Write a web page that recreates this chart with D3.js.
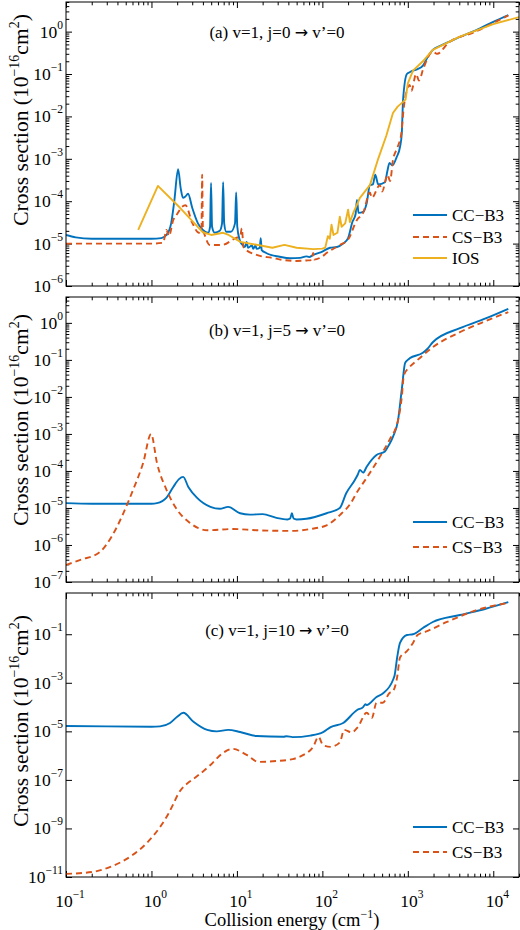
<!DOCTYPE html>
<html><head><meta charset="utf-8">
<script src="https://cdn.jsdelivr.net/npm/d3@7/dist/d3.min.js"></script>
<style>
body{margin:0;background:#fff}
text{font-family:"Liberation Serif","Times New Roman","DejaVu Serif",serif;fill:#000}
</style>
</head><body>
<svg id="chart" width="520" height="930"></svg>
<script>
// ---------------- data ----------------
const energyDomain = [0.1, 2e4];
const xTickExponents = [-1, 0, 1, 2, 3, 4];
const seriesNames = ["CC−B3", "CS−B3", "IOS"];
const panelTitles = [["(a) v=1, j=0 ", " v’=0"], ["(b) v=1, j=5 ", " v’=0"], ["(c) v=1, j=10 ", " v’=0"]];

const yDomainA = [1e-6, 5];
const yTickExpA = [-6, -5, -4, -3, -2, -1, 0];
const yDomainB = [1e-7, 5];
const yTickExpB = [-7, -6, -5, -4, -3, -2, -1, 0];
const yDomainC = [1e-11, 5];
const yTickExpC = [-11, -9, -7, -5, -3, -1];

// panel (a) j=0
const aCC = [[0.1,1.6e-5],[0.13,1.4e-5],[0.2,1.3e-5],[0.5,1.3e-5],[1.0,1.3e-5],[1.3,1.35e-5],[1.5,1.6e-5],[1.7,3e-5],[1.85,1e-4],[2.05,5.7e-4],[2.2,2e-4],[2.34,1.2e-4],[2.5,1.3e-4],[2.68,1.5e-4],[3.0,7e-5],[3.5,3e-5],[4.0,2.1e-5],[4.6,1.8e-5],[4.85,2.5e-5],[4.98,2.7e-4],[5.12,2.5e-5],[5.5,1.8e-5],[6.3,2e-5],[6.7,3e-5],[6.9,2.8e-4],[7.1,3e-5],[7.5,1.9e-5],[8.5,1.9e-5],[9.5,3e-5],[9.8,1.6e-4],[10.1,2.5e-5],[10.8,1.2e-5],[11.5,9.5e-6],[12.4,8.3e-6],[13,1.1e-5],[13.5,8e-6],[15,9e-6],[15.5,7.5e-6],[16.5,9e-6],[17,7.5e-6],[18.5,8e-6],[19,1.35e-5],[19.5,7e-6],[22,6e-6],[31.6,4.9e-6],[42,4.5e-6],[55,4.6e-6],[65,5e-6],[70,4.8e-6],[78,5.4e-6],[100,6.5e-6],[123,8e-6],[148,8.3e-6],[175,1.0e-5],[200,1.35e-5],[224,3.2e-5],[245,5e-5],[254,1.07e-4],[265,5.3e-5],[300,5.6e-5],[330,9e-5],[360,2.4e-4],[390,2.5e-4],[416,4.2e-4],[450,2.5e-4],[540,2.8e-4],[575,5e-4],[610,8e-4],[660,7e-4],[740,1.1e-3],[810,1.9e-3],[850,4e-3],[880,0.025],[975,0.1],[1050,0.11],[1150,0.12],[1300,0.13],[1510,0.16],[1700,0.25],[1960,0.37],[2500,0.48],[4070,0.75],[7000,1.2],[10000,1.7],[15000,2.45]];
const aCS = [[0.1,1.0e-5],[0.5,1.0e-5],[1.0,1.0e-5],[1.37,1.05e-5],[1.5,2.1e-5],[1.6,1.5e-5],[1.8,3.6e-5],[2.0,5e-5],[2.28,7.4e-5],[2.5,8e-5],[3.0,3.1e-5],[3.6,1.8e-5],[3.85,2.2e-5],[3.92,4.2e-4],[4.0,2.2e-5],[4.2,1.6e-5],[4.8,9.3e-6],[6.7,9.3e-6],[9.0,1.25e-5],[11.0,1.6e-5],[11.4,2.3e-5],[12,8e-6],[17,5.4e-6],[26,4.6e-6],[35,4.1e-6],[50,3.9e-6],[65,4e-6],[75,4.1e-6],[78,6e-6],[80,4.2e-6],[100,5e-6],[112,6e-6],[160,9.3e-6],[200,1.25e-5],[254,3.6e-5],[300,5.3e-5],[360,1.6e-4],[380,1.2e-4],[470,2.4e-4],[500,1.7e-4],[580,4.2e-4],[620,3e-4],[670,9.3e-4],[760,1.9e-3],[840,4e-3],[890,0.014],[975,0.042],[1050,0.055],[1100,0.04],[1250,0.1],[1350,0.07],[1510,0.13],[1960,0.34],[2200,0.3],[3000,0.55],[6000,0.97],[10000,1.6],[15000,2.4]];
const aIOS = [[0.70,2.1e-5],[1.19,2.3e-4],[2.16,7e-5],[4.0,1.85e-5],[5.0,1.6e-5],[6.9,1.8e-5],[8,1.6e-5],[11,1.1e-5],[26,8e-6],[36,9.3e-6],[50,8e-6],[78,7.4e-6],[100,7.6e-6],[108,8e-6],[116,1.5e-5],[122,1.3e-5],[128,2.8e-5],[135,1.6e-5],[150,1.8e-5],[160,4.3e-5],[168,2.5e-5],[185,3e-5],[200,6.3e-5],[210,3.2e-5],[230,5.3e-5],[275,1.2e-4],[360,2.4e-4],[450,1.0e-3],[560,3.5e-3],[670,0.012],[760,0.017],[880,0.022],[940,0.025],[1000,0.06],[1150,0.12],[1500,0.2],[1960,0.37],[4000,0.75],[10000,1.5],[20000,2.2]];

// panel (b) j=5
const bCC = [[0.1,1.35e-5],[0.2,1.3e-5],[0.5,1.3e-5],[1.0,1.3e-5],[1.16,1.35e-5],[1.5,1.9e-5],[1.8,3.7e-5],[2.1,6e-5],[2.35,6.9e-5],[2.7,3.7e-5],[3.4,1.9e-5],[4.9,1.07e-5],[6.3,9.5e-6],[7.9,1.07e-5],[10.9,7.2e-6],[14.2,6.6e-6],[20,6.8e-6],[29,5.4e-6],[39,4.9e-6],[42,5.2e-6],[44,7.2e-6],[46,5.2e-6],[50,4.9e-6],[65,5.1e-6],[112,7.2e-6],[160,1.0e-5],[190,2.5e-5],[240,5.7e-5],[260,8e-5],[275,1.07e-4],[300,9e-5],[330,1.3e-4],[430,2.7e-4],[535,3.3e-4],[600,5e-4],[670,8.3e-4],[770,2.4e-3],[850,0.016],[930,0.083],[1000,0.1],[1050,0.11],[1500,0.155],[1700,0.2],[1960,0.30],[4070,0.72],[8000,1.3],[15000,2.4]];
const bCS = [[0.1,2.9e-7],[0.15,4e-7],[0.25,6.5e-7],[0.34,1.65e-6],[0.45,5.8e-6],[0.61,3.1e-5],[0.8,1.65e-4],[0.99,1e-3],[1.16,1.65e-4],[1.5,3.1e-5],[2.0,8.9e-6],[2.8,4e-6],[4.5,2.5e-6],[9,2.7e-6],[17,2.5e-6],[45,2.4e-6],[72,2.7e-6],[112,3.4e-6],[160,6.4e-6],[215,1.35e-5],[255,2.7e-5],[330,6.5e-5],[470,2.4e-4],[610,6.9e-4],[770,2.4e-3],[850,0.01],[900,0.039],[1050,0.064],[1300,0.1],[1650,0.16],[1960,0.22],[4070,0.56],[8000,1.1],[15000,1.95]];

// panel (c) j=10
const cCC = [[0.1,1.66e-5],[0.3,1.6e-5],[1.0,1.55e-5],[1.26,1.6e-5],[1.65,2.2e-5],[2.0,4e-5],[2.36,5.8e-5],[3.1,2.5e-5],[4.5,1.15e-5],[5.8,1.0e-5],[7.9,1.15e-5],[10.9,9.4e-6],[17,6.4e-6],[35,6e-6],[38,6.3e-6],[45,5.8e-6],[72,6.7e-6],[102,9.3e-6],[125,1.5e-5],[175,2.2e-5],[255,7.6e-5],[300,1e-4],[320,1.3e-4],[330,1.2e-4],[430,2.6e-4],[510,3.6e-4],[670,1.3e-3],[700,2e-3],[750,0.011],[810,0.044],[975,0.093],[1150,0.1],[1500,0.18],[1960,0.32],[4070,0.62],[8000,1.1],[15000,2.1]];
const cCS = [[0.1,1.35e-11],[0.2,1.6e-11],[0.33,2.6e-11],[0.6,8e-11],[0.88,2.5e-10],[1.26,1.15e-9],[1.55,3.6e-9],[1.8,1.0e-8],[2.05,2.6e-8],[2.35,5.0e-8],[2.8,8.5e-8],[3.4,1.4e-7],[4.9,4.1e-7],[6.9,1.3e-6],[8.9,1.9e-6],[13,1.07e-6],[18,5.5e-7],[29,6e-7],[45,7.2e-7],[60,1.07e-6],[78,2.3e-6],[90,5.9e-6],[102,2.7e-6],[125,2.3e-6],[160,3.5e-6],[180,1.15e-5],[220,9e-6],[260,1.5e-5],[330,5.8e-5],[380,3.6e-5],[430,1.5e-4],[510,1.5e-4],[610,3.8e-4],[670,4.5e-4],[750,1.7e-3],[810,0.011],[975,0.02],[1150,0.044],[1300,0.093],[1650,0.13],[2870,0.32],[6400,0.99],[15000,1.95]];

// ---------------- drawing ----------------
const colors = ["#0072BD", "#D95319", "#EDB120"];
const dashes = [null, "6,4", null];
const svg = d3.select("#chart");
const left = 66, right = 519;
const x = d3.scaleLog().domain(energyDomain).range([left, right]);

const xMajor = xTickExponents.map(e => Math.pow(10, e));
const xMinor = [];
xTickExponents.forEach(e => { for (let m = 2; m <= 9; m++) { const v = m * Math.pow(10, e); if (v <= energyDomain[1]) xMinor.push(v); } });

const panels = [
  {top:2, bottom:286, dom:yDomainA, exps:yTickExpA, minor:true, series:[aCC,aCS,aIOS], curves:["m","m","l"], title:panelTitles[0], titleY:38, ylabY:120, legY:[215,237,258]},
  {top:297, bottom:582, dom:yDomainB, exps:yTickExpB, minor:true, series:[bCC,bCS], curves:["m","m"], title:panelTitles[1], titleY:336, ylabY:420, legY:[522,547]},
  {top:593, bottom:877, dom:yDomainC, exps:yTickExpC, minor:false, series:[cCC,cCS], curves:["m","m"], title:panelTitles[2], titleY:636, ylabY:721, legY:[827,852]}
];

function styleAxis(sel) {
  sel.select(".domain").remove();
  sel.selectAll(".tick line").attr("stroke", "#000").attr("stroke-width", 1);
}

function supText(g, xPos, yPos, base, sup, anchor, size, supSize, raise) {
  const t = g.append("text").attr("x", xPos).attr("y", yPos).attr("text-anchor", anchor).attr("font-size", size);
  t.append("tspan").text(base);
  t.append("tspan").attr("font-size", supSize).attr("dy", -raise).text(sup);
  return t;
}

panels.forEach((p, i) => {
  const y = d3.scaleLog().domain(p.dom).range([p.bottom, p.top]);
  const g = svg.append("g");
  const yMajor = p.exps.map(e => Math.pow(10, e));
  const yMinor = [];
  if (p.minor) {
    for (let e = p.exps[0]; e <= 0; e++) for (let m = 2; m <= 9; m++) { const v = m * Math.pow(10, e); if (v <= p.dom[1]) yMinor.push(v); }
  }

  const cid = "clip" + i;
  svg.append("clipPath").attr("id", cid).append("rect")
    .attr("x", left).attr("y", p.top).attr("width", right - left).attr("height", p.bottom - p.top);

  [[xMajor, 6], [xMinor, 3.3]].forEach(([vals, len]) => {
    g.append("g").attr("transform", `translate(0,${p.bottom})`).call(d3.axisBottom(x).tickValues(vals).tickSize(-len).tickFormat("")).call(styleAxis);
    g.append("g").attr("transform", `translate(0,${p.top})`).call(d3.axisTop(x).tickValues(vals).tickSize(-len).tickFormat("")).call(styleAxis);
  });
  [[yMajor, 6], [yMinor, 3.3]].forEach(([vals, len]) => {
    if (!vals.length) return;
    g.append("g").attr("transform", `translate(${left},0)`).call(d3.axisLeft(y).tickValues(vals).tickSize(-len).tickFormat("")).call(styleAxis);
    g.append("g").attr("transform", `translate(${right},0)`).call(d3.axisRight(y).tickValues(vals).tickSize(-len).tickFormat("")).call(styleAxis);
  });

  p.exps.forEach(e => {
    const yy = y(Math.pow(10, e));
    supText(g, 63, yy + 6, "10", e < 0 ? "−" + (-e) : String(e), "end", 17.5, 11.5, 9);
  });

  const lg = g.append("g").attr("clip-path", `url(#${cid})`);
  p.series.forEach((s, k) => {
    const line = d3.line().x(d => x(d[0])).y(d => y(d[1]))
      .curve(p.curves[k] === "l" ? d3.curveLinear : d3.curveMonotoneX);
    lg.append("path").datum(s).attr("d", line).attr("fill", "none")
      .attr("stroke", colors[k]).attr("stroke-width", 1.9)
      .attr("stroke-dasharray", dashes[k]).attr("stroke-linejoin", "round");
  });

  g.append("rect").attr("x", left).attr("y", p.top).attr("width", right - left).attr("height", p.bottom - p.top)
    .attr("fill", "none").attr("stroke", "#000").attr("stroke-width", 1);

  const tt = g.append("text").attr("x", 277).attr("y", p.titleY).attr("text-anchor", "middle").attr("font-size", 17);
  tt.append("tspan").text(p.title[0]);
  tt.append("tspan").attr("font-family", "DejaVu Sans").attr("font-size", 16).text("→");
  tt.append("tspan").text(p.title[1]);

  p.series.forEach((s, k) => {
    const ly = p.legY[k];
    g.append("line").attr("x1", 413).attr("x2", 447).attr("y1", ly).attr("y2", ly)
      .attr("stroke", colors[k]).attr("stroke-width", 1.9).attr("stroke-dasharray", dashes[k]);
    g.append("text").attr("x", 452).attr("y", ly + 6).attr("font-size", 17).text(seriesNames[k]);
  });

  const yt = g.append("text").attr("transform", `translate(28,${p.ylabY}) rotate(-90)`)
    .attr("text-anchor", "middle").attr("font-size", 21.5);
  yt.append("tspan").text("Cross section (10");
  yt.append("tspan").attr("font-size", 14).attr("dy", -9).text("−16");
  yt.append("tspan").attr("dy", 9).text("cm");
  yt.append("tspan").attr("font-size", 14).attr("dy", -9).text("2");
  yt.append("tspan").attr("dy", 9).text(")");

  if (i === 2) {
    xTickExponents.forEach(e => {
      supText(g, x(Math.pow(10, e)) + 4, 907, "10", e < 0 ? "−" + (-e) : String(e), "middle", 17.5, 11.5, 9);
    });
    const xt = g.append("text").attr("x", 292).attr("y", 926).attr("text-anchor", "middle").attr("font-size", 18.5);
    xt.append("tspan").text("Collision energy (cm");
    xt.append("tspan").attr("font-size", 12).attr("dy", -8).text("−1");
    xt.append("tspan").attr("dy", 8).text(")");
  }
});
</script>
</body></html>
